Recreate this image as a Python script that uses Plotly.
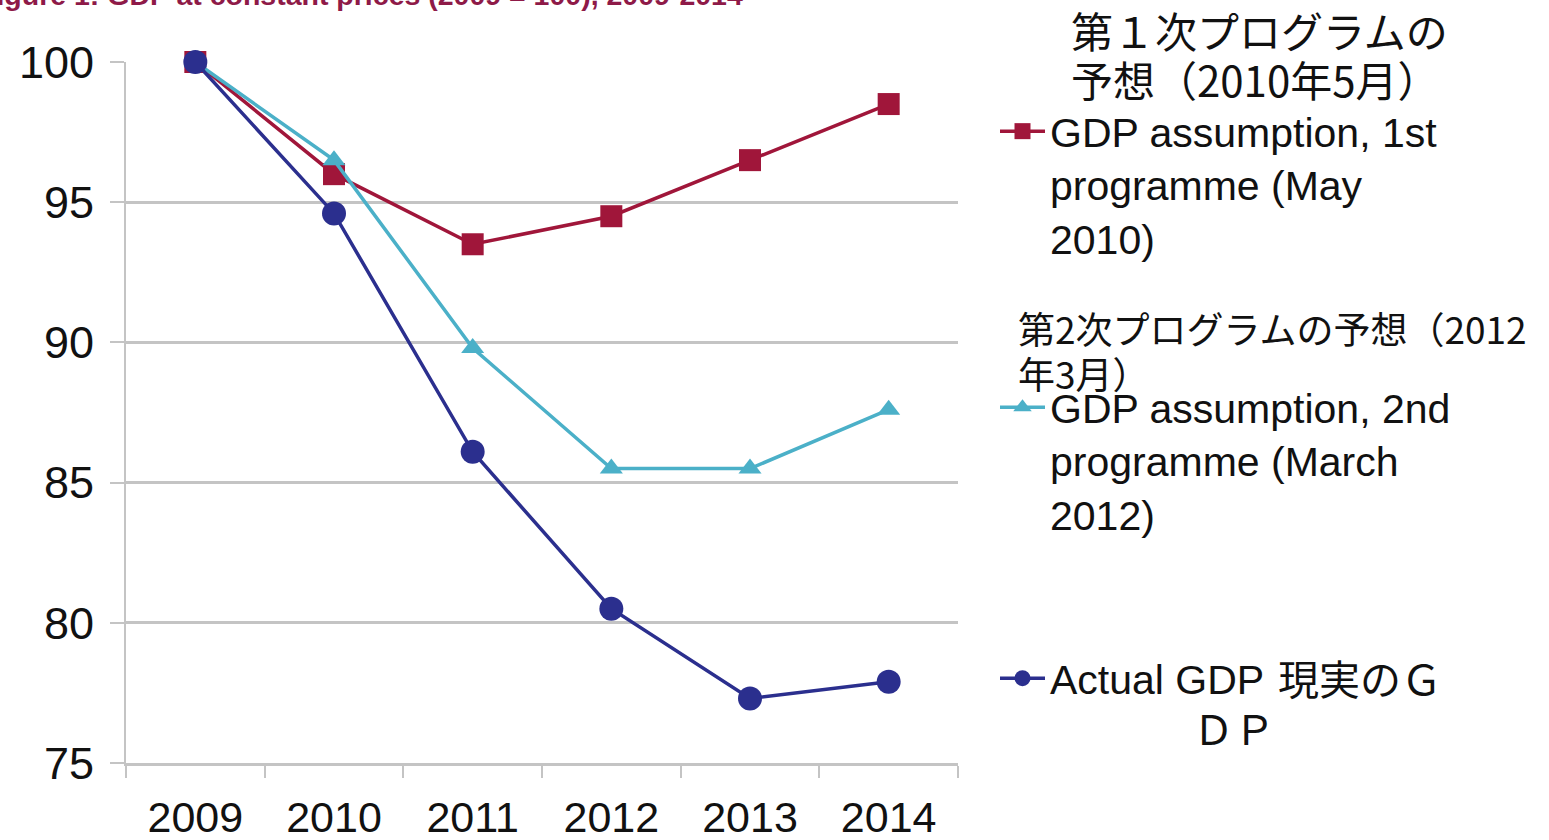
import plotly.graph_objects as go

years = ["2009", "2010", "2011", "2012", "2013", "2014"]
first_prog = [100, 96.0, 93.5, 94.5, 96.5, 98.5]
second_prog = [100, 96.5, 89.8, 85.5, 85.5, 87.6]
actual_gdp = [100, 94.6, 86.1, 80.5, 77.3, 77.9]
y_ticks = [75, 80, 85, 90, 95, 100]

title_text = "Figure 1: GDP at constant prices (2009 = 100), 2009-2014"
name_first = "GDP assumption, 1st<br>programme (May<br>2010)"
name_second = "GDP assumption, 2nd<br>programme (March<br>2012)"
name_actual = "Actual GDP"

RED = "#a0163a"
CYAN = "#4bb0c8"
NAVY = "#2b2f8e"
GRID = "#c4c4c4"
FONT = "Liberation Sans, Arial, sans-serif"
JP = "Noto Sans CJK JP, sans-serif"

W, H = 1549, 840
L, R, T, B = 126, 958, 62, 763


def px(x):
    return (x - L) / (R - L)


def py(y):
    return (B - y) / (B - T)


fig = go.Figure()
fig.add_trace(go.Scatter(x=years, y=first_prog, name=name_first, mode="lines+markers",
                         line=dict(color=RED, width=3.5),
                         marker=dict(symbol="square", size=22, color=RED),
                         cliponaxis=False, legend="legend"))
fig.add_trace(go.Scatter(x=years, y=second_prog, name=name_second, mode="lines+markers",
                         line=dict(color=CYAN, width=3.5),
                         marker=dict(symbol="triangle-up", size=20, color=CYAN),
                         cliponaxis=False, legend="legend2"))
fig.add_trace(go.Scatter(x=years, y=actual_gdp, name=name_actual, mode="lines+markers",
                         line=dict(color=NAVY, width=3.5),
                         marker=dict(symbol="circle", size=24, color=NAVY),
                         cliponaxis=False, legend="legend3"))

leg_common = dict(font=dict(family=FONT, size=41, color="#111111"),
                  bgcolor="rgba(0,0,0,0)", valign="top",
                  xanchor="left", yanchor="top", itemwidth=45)

annotations = [
    dict(text="<b>" + title_text + "</b>",
         x=px(745), y=py(-5), xanchor="right", yanchor="middle",
         font=dict(family=FONT, size=28.5, color="#8e1a48")),
    dict(text="第１次プログラムの", x=px(1069), y=py(30), xanchor="left", yanchor="middle",
         font=dict(family=JP, size=42, color="#111111")),
    dict(text="予想（2010年5月）", x=px(1069), y=py(78), xanchor="left", yanchor="middle",
         font=dict(family=JP, size=42, color="#111111")),
    dict(text="第2次プログラムの予想（2012", x=px(1016), y=py(328), xanchor="left", yanchor="middle",
         font=dict(family=JP, size=37, color="#111111")),
    dict(text="年3月）", x=px(1016), y=py(373), xanchor="left", yanchor="middle",
         font=dict(family=JP, size=37, color="#111111")),
    dict(text="現実のＧ", x=px(1276), y=py(677), xanchor="left", yanchor="middle",
         font=dict(family=JP, size=41, color="#111111")),
    dict(text="ＤＰ", x=px(1191), y=py(727), xanchor="left", yanchor="middle",
         font=dict(family=JP, size=41, color="#111111")),
]
for a in annotations:
    a.update(xref="paper", yref="paper", showarrow=False)

fig.update_layout(
    width=W, height=H,
    margin=dict(l=L, r=W - R, t=T, b=H - B, autoexpand=False),
    paper_bgcolor="white", plot_bgcolor="white",
    font=dict(family=FONT, color="#111111"),
    showlegend=True,
    legend=dict(x=px(995), y=py(98), **leg_common),
    legend2=dict(x=px(995), y=py(374), **leg_common),
    legend3=dict(x=px(995), y=py(645), **leg_common),
    annotations=annotations,
    xaxis=dict(type="category", range=[-0.5, 5.5], showgrid=False,
               showline=True, linecolor=GRID, linewidth=3,
               ticks="outside", tickson="boundaries", ticklen=12, tickwidth=2,
               tickcolor=GRID, ticklabelstandoff=14,
               tickfont=dict(family=FONT, size=43, color="#111111")),
    yaxis=dict(range=[75, 100], tickvals=y_ticks,
               showgrid=True, gridcolor=GRID, gridwidth=3,
               showline=True, linecolor=GRID, linewidth=2,
               ticks="outside", ticklen=14, tickwidth=2, tickcolor=GRID,
               ticklabelstandoff=7, zeroline=False,
               tickfont=dict(family=FONT, size=45, color="#111111")),
)

fig.write_html("out.html", config={"displayModeBar": False},
               post_script="document.body.style.margin='0px';document.body.style.overflow='hidden';")
